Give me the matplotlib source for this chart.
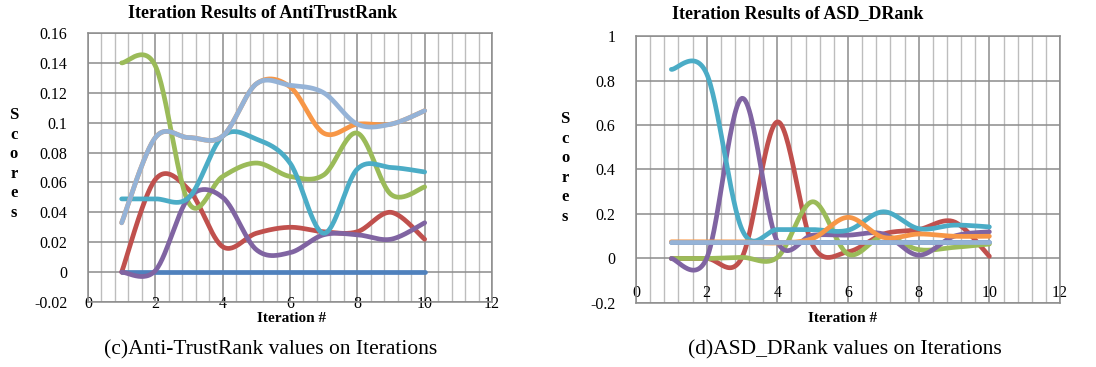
import numpy as np
import matplotlib
matplotlib.use('Agg')
import matplotlib.pyplot as plt
from matplotlib.ticker import MultipleLocator, FuncFormatter

plt.rcParams['font.family'] = ['Liberation Serif', 'DejaVu Serif']

iterations = [1, 2, 3, 4, 5, 6, 7, 8, 9, 10]
colors = ['#4F81BD', '#C0504D', '#9BBB59', '#8064A2', '#4BACC6', '#F79646', '#95B3D7']

# Anti-TrustRank scores per series
atr_blue = [0, 0, 0, 0, 0, 0, 0, 0, 0, 0]
atr_red = [0, 0.062, 0.055, 0.017, 0.026, 0.030, 0.027, 0.027, 0.040, 0.022]
atr_green = [0.140, 0.138, 0.046, 0.064, 0.073, 0.064, 0.065, 0.093, 0.052, 0.057]
atr_purple = [0, 0.001, 0.050, 0.050, 0.015, 0.013, 0.025, 0.025, 0.022, 0.033]
atr_teal = [0.049, 0.049, 0.050, 0.091, 0.089, 0.073, 0.026, 0.069, 0.070, 0.067]
atr_orange = [0.033, 0.090, 0.090, 0.091, 0.126, 0.124, 0.093, 0.099, 0.099, 0.108]
atr_lightblue = [0.033, 0.090, 0.090, 0.091, 0.126, 0.125, 0.120, 0.099, 0.099, 0.108]

# ASD_DRank scores per series
asd_blue = [0.075, 0.075, 0.075, 0.075, 0.075, 0.075, 0.075, 0.075, 0.075, 0.075]
asd_red = [0, 0, 0.005, 0.614, 0.060, 0.030, 0.110, 0.130, 0.165, 0.010]
asd_green = [0, 0, 0.005, 0.005, 0.255, 0.020, 0.100, 0.040, 0.050, 0.065]
asd_purple = [0, 0.001, 0.720, 0.075, 0.105, 0.105, 0.110, 0.015, 0.100, 0.120]
asd_teal = [0.850, 0.830, 0.130, 0.130, 0.130, 0.127, 0.210, 0.134, 0.150, 0.142]
asd_orange = [0.075, 0.075, 0.075, 0.070, 0.090, 0.185, 0.095, 0.110, 0.100, 0.100]
asd_lightblue = [0.075, 0.075, 0.075, 0.075, 0.075, 0.075, 0.075, 0.075, 0.075, 0.075]


def smooth(xs, ys, n=30):
    # Excel-like smoothed line: cubic bezier with catmull-rom control points
    x = np.asarray(xs, float)
    y = np.asarray(ys, float)
    px = np.concatenate([[x[0]], x, [x[-1]]])
    py = np.concatenate([[y[0]], y, [y[-1]]])
    t = np.linspace(0, 1, n)[:, None]
    outx, outy = [], []
    for i in range(1, len(px) - 2):
        p0 = np.array([px[i], py[i]])
        p3 = np.array([px[i + 1], py[i + 1]])
        c1 = p0 + (np.array([px[i + 1], py[i + 1]]) - np.array([px[i - 1], py[i - 1]])) / 6
        c2 = p3 - (np.array([px[i + 2], py[i + 2]]) - np.array([px[i], py[i]])) / 6
        pts = (1 - t) ** 3 * p0 + 3 * (1 - t) ** 2 * t * c1 + 3 * (1 - t) * t ** 2 * c2 + t ** 3 * p3
        outx.append(pts[:, 0])
        outy.append(pts[:, 1])
    return np.concatenate(outx), np.concatenate(outy)


def draw(ax, series, ymin, ymax, ystep, xpad):
    for ys, c in zip(series, colors):
        sx, sy = smooth(iterations, ys)
        ax.plot(sx, sy, color=c, lw=3.4, solid_capstyle='round', zorder=3)
    ax.set_xlim(0, 12)
    ax.set_ylim(ymin, ymax)
    ax.xaxis.set_major_locator(MultipleLocator(2))
    ax.xaxis.set_minor_locator(MultipleLocator(0.4))
    ax.yaxis.set_major_locator(MultipleLocator(ystep))
    ax.yaxis.set_major_formatter(FuncFormatter(lambda v, p: '%g' % round(v, 4)))
    ax.grid(which='major', color='#8c8c8c', lw=1.1, zorder=0)
    ax.grid(which='minor', axis='x', color='#bdbdbd', lw=1.0, zorder=0)
    ax.tick_params(which='both', length=0, labelsize=11.5)
    ax.tick_params(axis='x', pad=xpad)
    ax.tick_params(axis='y', pad=15)
    for s in ax.spines.values():
        s.set_color('#8c8c8c')
        s.set_linewidth(1.1)


fig = plt.figure(figsize=(10.96, 3.67), dpi=100)
ax1 = fig.add_axes([0.0803, 0.1771, 0.3686, 0.733])
ax2 = fig.add_axes([0.5803, 0.1744, 0.3869, 0.7275])

draw(ax1, [atr_blue, atr_red, atr_green, atr_purple, atr_teal, atr_orange, atr_lightblue],
     -0.02, 0.16, 0.02, -4)
draw(ax2, [asd_blue, asd_red, asd_green, asd_purple, asd_teal, asd_orange, asd_lightblue],
     -0.2, 1.0, 0.2, -13)

fig.text(263 / 1096, 1 - 14 / 367, 'Iteration Results of AntiTrustRank',
         ha='center', va='center', fontsize=13, fontweight='bold')
fig.text(798 / 1096, 1 - 14 / 367, 'Iteration Results of ASD_DRank',
         ha='center', va='center', fontsize=13, fontweight='bold')

for xpos in (292 / 1096, 843 / 1096):
    fig.text(xpos, 1 - 318 / 367, 'Iteration #', ha='center', va='center',
             fontsize=11, fontweight='bold')

for xpos, ypos in ((14 / 1096, 1 - 164 / 367), (565 / 1096, 1 - 168 / 367)):
    fig.text(xpos, ypos, 'S\nc\no\nr\ne\ns', ha='center', va='center',
             fontsize=12, fontweight='bold', linespacing=1.3)

fig.text(271 / 1096, 1 - 350 / 367, '(c)Anti-TrustRank values on Iterations',
         ha='center', va='center', fontsize=15.5)
fig.text(845 / 1096, 1 - 350 / 367, '(d)ASD_DRank values on Iterations',
         ha='center', va='center', fontsize=15.5)

fig.savefig('out.png', dpi=100)
